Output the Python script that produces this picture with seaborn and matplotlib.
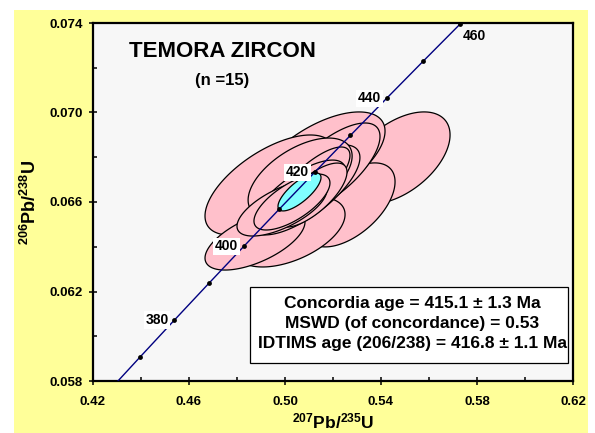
import numpy as np
import matplotlib
matplotlib.use("Agg")
import matplotlib.pyplot as plt
import seaborn as sns
from matplotlib.patches import Rectangle, Polygon

# ---------------- data ----------------
# concordia tick points (age in Ma and ratios)
conc_age = [360, 370, 380, 390, 400, 410, 420, 430, 440, 450, 460]
conc_x = [0.42553, 0.43964, 0.45389, 0.46828, 0.48281, 0.49749, 0.51231, 0.52728, 0.54239, 0.55766, 0.57307]
conc_y = [0.057434, 0.059075, 0.060720, 0.062366, 0.064015, 0.065667, 0.067322, 0.068979, 0.070638, 0.072301, 0.073965]
label_ages = [380, 400, 420, 440, 460]

# analysis error ellipses (centre, half-widths, error correlation), in drawing order
ell_x = [0.5471, 0.5271, 0.5146, 0.49375, 0.5021, 0.4875, 0.5138, 0.51875, 0.5083, 0.5063, 0.5104, 0.5063, 0.51125, 0.49875, 0.5029]
ell_y = [0.06797, 0.06587, 0.06788, 0.06676, 0.06466, 0.06430, 0.06707, 0.06752, 0.06654, 0.06707, 0.06676, 0.06631, 0.06631, 0.06573, 0.06600]
ell_sx = [0.02167, 0.01875, 0.02708, 0.02708, 0.02292, 0.02083, 0.02500, 0.02083, 0.02292, 0.02167, 0.01667, 0.01875, 0.01458, 0.01875, 0.01583]
ell_sy = [0.002056, 0.001877, 0.002145, 0.002235, 0.001564, 0.001341, 0.002235, 0.002011, 0.002011, 0.001788, 0.001698, 0.001564, 0.001430, 0.001251, 0.001251]
ell_rho = [0.50, 0.55, 0.60, 0.62, 0.50, 0.60, 0.78, 0.70, 0.72, 0.55, 0.78, 0.72, 0.72, 0.65, 0.68]

# concordia age ellipse
cage_x, cage_y, cage_sx, cage_sy, cage_rho = 0.50604, 0.06645, 0.00896, 0.000849, 0.76

xticks = [0.42, 0.46, 0.50, 0.54, 0.58, 0.62]
yticks = [0.058, 0.062, 0.066, 0.070, 0.074]
xminor = [0.44, 0.48, 0.52, 0.56, 0.60]
yminor = [0.060, 0.064, 0.068, 0.072]

title = "TEMORA ZIRCON"
subtitle = "(n =15)"
box_lines = ["Concordia age = 415.1 \u00b1 1.3 Ma",
             "MSWD (of concordance) = 0.53",
             "IDTIMS age (206/238) = 416.8 \u00b1 1.1 Ma"]

# ---------------- style ----------------
sns.set_theme(style="ticks")
plt.rcParams['font.family'] = ['Liberation Sans', 'DejaVu Sans']
plt.rcParams['font.weight'] = 'bold'
plt.rcParams['text.color'] = 'black'
plt.rcParams['axes.labelcolor'] = 'black'
plt.rcParams['xtick.color'] = 'black'
plt.rcParams['ytick.color'] = 'black'
plt.rcParams['mathtext.fontset'] = 'custom'
plt.rcParams['mathtext.bf'] = 'Liberation Sans:bold'
plt.rcParams['mathtext.rm'] = 'Liberation Sans:bold'

fig = plt.figure(figsize=(5.95, 4.33), dpi=100)
fig.patch.set_facecolor('white')
fig.patches.append(Rectangle((14/595, 0), (588-14)/595, (433-10)/433, transform=fig.transFigure,
                             facecolor='#FFFF99', edgecolor='none', zorder=-10))
ax = fig.add_axes([93/595, 1-381/433, 480/595, 358/433])
ax.set_facecolor('#F7F7F7')


def ellipse_pts(cx, cy, sx, sy, rho, n=200):
    t = np.linspace(0, 2*np.pi, n)
    xs = cx + sx*np.cos(t)
    ys = cy + sy*(rho*np.cos(t) + np.sqrt(1-rho**2)*np.sin(t))
    return np.column_stack([xs, ys])


for cx, cy, sx, sy, r in zip(ell_x, ell_y, ell_sx, ell_sy, ell_rho):
    ax.add_patch(Polygon(ellipse_pts(cx, cy, sx, sy, r), closed=True,
                         facecolor='#FFC0CB', edgecolor='black', linewidth=0.9, zorder=2))
ax.add_patch(Polygon(ellipse_pts(cage_x, cage_y, cage_sx, cage_sy, cage_rho), closed=True,
                     facecolor='#80FFFF', edgecolor='black', linewidth=0.9, zorder=3))

sns.lineplot(x=conc_x, y=conc_y, sort=False, color='#000080', linewidth=1.0, ax=ax, zorder=4)
sns.scatterplot(x=conc_x, y=conc_y, color='black', s=12, edgecolor='black', linewidth=0, ax=ax, zorder=5)

for age in label_ages:
    i = conc_age.index(age)
    if age == 460:
        ax.annotate(str(age), (conc_x[i], conc_y[i]), xytext=(2, -9), textcoords='offset points',
                    ha='left', va='center', fontsize=10, fontweight='bold', zorder=6)
    else:
        ax.annotate(str(age), (conc_x[i], conc_y[i]), xytext=(-4, 0), textcoords='offset points',
                    ha='right', va='center', fontsize=10, fontweight='bold', zorder=6,
                    bbox=dict(boxstyle='square,pad=0.12', facecolor='white', edgecolor='none'))

ax.set_xlim(0.42, 0.62)
ax.set_ylim(0.058, 0.074)
ax.set_xticks(xticks)
ax.set_xticklabels([f"{v:.2f}" for v in xticks])
ax.set_yticks(yticks)
ax.set_yticklabels([f"{v:.3f}" for v in yticks])
ax.set_xticks(xminor, minor=True)
ax.set_yticks(yminor, minor=True)
ax.tick_params(which='major', direction='inout', length=6, width=1.1, labelsize=9.5, colors='black')
ax.tick_params(axis='x', which='major', pad=8)
ax.tick_params(axis='y', which='major', pad=4.3)
ax.tick_params(which='minor', direction='in', length=3, width=1.1, colors='black')
for s in ax.spines.values():
    s.set_visible(True)
    s.set_color('black')
    s.set_linewidth(1.6)

ax.set_xlabel(r'$\mathbf{^{207}Pb/^{235}U}$', fontsize=12.5, labelpad=2.5, color='black')
ax.set_ylabel(r'$\mathbf{^{206}Pb/^{238}U}$', fontsize=13, labelpad=6.5, color='black')

ax.text(0.269, 0.905, title, transform=ax.transAxes, ha='center', va='baseline',
        fontsize=16, fontweight='bold', color='black')
ax.text(0.269, 0.8268, subtitle, transform=ax.transAxes, ha='center', va='baseline',
        fontsize=12, fontweight='bold', color='black')

ax.add_patch(Rectangle((0.327, 0.0503), 0.990-0.327, 0.2626-0.0503, transform=ax.transAxes,
                       facecolor='white', edgecolor='black', linewidth=0.9, zorder=6))
for line, yb in zip(box_lines, [0.2039, 0.1480, 0.0922]):
    ax.text(0.665, yb, line, transform=ax.transAxes, ha='center', va='baseline',
            fontsize=12.5, fontweight='bold', zorder=7, color='black')

fig.savefig('out.png', dpi=100)
